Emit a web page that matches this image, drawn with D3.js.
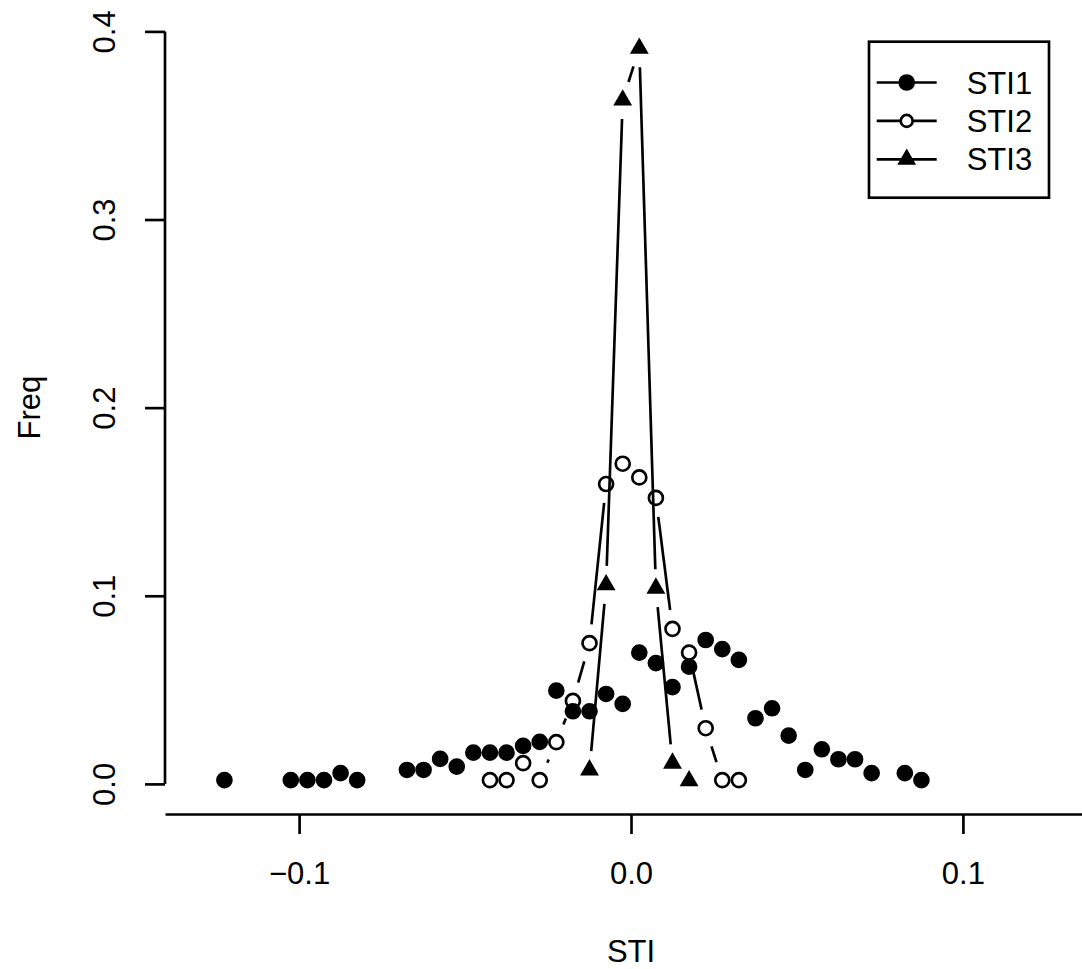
<!DOCTYPE html>
<html>
<head>
<meta charset="utf-8">
<script src="https://cdn.jsdelivr.net/npm/d3@7"></script>
<style>
  body { margin: 0; background: #fff; }
  svg { display: block; }
  text { font-family: "Liberation Sans", Arial, sans-serif; fill: #000; }
</style>
</head>
<body>
<svg id="chart" width="1082" height="969"></svg>
<script>
// STI bin midpoints and frequencies
const sti1X = [-0.1225, -0.1025, -0.0975, -0.0925, -0.0875, -0.0825, -0.0675, -0.0625, -0.0575, -0.0525,
  -0.0475, -0.0425, -0.0375, -0.0325, -0.0275, -0.0225, -0.0175, -0.0125, -0.0075, -0.0025,
  0.0025, 0.0075, 0.0125, 0.0175, 0.0225, 0.0275, 0.0325, 0.0375, 0.0425, 0.0475,
  0.0525, 0.0575, 0.0625, 0.0675, 0.0725, 0.0825, 0.0875];
const sti1Freq = [0.002, 0.002, 0.002, 0.002, 0.0057, 0.002, 0.0074, 0.0074, 0.0133, 0.0092,
  0.0166, 0.0166, 0.0166, 0.0202, 0.0223, 0.0496, 0.0386, 0.0386, 0.0478, 0.0425,
  0.0698, 0.0642, 0.0514, 0.0623, 0.0765, 0.0716, 0.0659, 0.0349, 0.0402, 0.0257,
  0.0074, 0.0184, 0.0131, 0.0131, 0.0057, 0.0057, 0.002];

const sti2X = [-0.0425, -0.0375, -0.0325, -0.0275, -0.0225, -0.0175, -0.0125, -0.0075,
  -0.0025, 0.0025, 0.0075, 0.0125, 0.0175, 0.0225, 0.0275, 0.0325];
const sti2Freq = [0.002, 0.002, 0.011, 0.002, 0.0222, 0.0441, 0.0748, 0.1594,
  0.1702, 0.1629, 0.152, 0.0824, 0.0698, 0.0296, 0.002, 0.002];

const sti3X = [-0.0125, -0.0075, -0.0025, 0.0025, 0.0075, 0.0125, 0.0175];
const sti3Freq = [0.0074, 0.1058, 0.3635, 0.391, 0.104, 0.011, 0.0016];

const xTicks = [-0.1, 0.0, 0.1];
const yTicks = [0.0, 0.1, 0.2, 0.3, 0.4];
const legendLabels = ['STI1', 'STI2', 'STI3'];

const lw = 2.67;      // R lwd=1 at this resolution
const gap = 19;       // type="b" gap around points
const rPt = 7;
const fontSize = 31;

const svg = d3.select('#chart');
svg.append('rect').attr('width', 1082).attr('height', 969).attr('fill', '#fff');

const x = d3.scaleLinear().domain([-0.1404, 0.1404]).range([165, 1097]);
const y = d3.scaleLinear().domain([-0.016, 0.416]).range([814, 1.3]);
const fmt = d3.format('.1f');

// x axis
const xAxis = svg.append('g')
  .attr('transform', `translate(0,${y(-0.016)})`)
  .call(d3.axisBottom(x).tickValues(xTicks).tickFormat(fmt).tickSize(20).tickSizeOuter(0).tickPadding(28));
xAxis.selectAll('path, line').attr('stroke', '#000').attr('stroke-width', lw);
xAxis.selectAll('text').attr('font-size', fontSize).attr('font-family', '"Liberation Sans", Arial, sans-serif').attr('fill', '#000');

// y axis
const yAxis = svg.append('g')
  .attr('transform', `translate(${x(-0.1404)},0)`)
  .call(d3.axisLeft(y).tickValues(yTicks).tickFormat('').tickSize(20).tickSizeOuter(0));
yAxis.select('.domain').remove();
yAxis.append('line')
  .attr('y1', y(0)).attr('y2', y(0.4))
  .attr('stroke', '#000').attr('stroke-width', lw);
yAxis.selectAll('.tick line').attr('stroke', '#000').attr('stroke-width', lw);
yAxis.selectAll('.tick').append('text')
  .attr('transform', 'translate(-50,0) rotate(-90)')
  .attr('text-anchor', 'middle')
  .attr('font-size', fontSize)
  .attr('font-family', '"Liberation Sans", Arial, sans-serif')
  .attr('fill', '#000')
  .text(d => fmt(d));

// axis titles
svg.append('text')
  .attr('x', x(0)).attr('y', 962)
  .attr('text-anchor', 'middle').attr('font-size', fontSize)
  .text('STI');
svg.append('text')
  .attr('transform', `translate(40,${(y(-0.016) + y(0.416)) / 2}) rotate(-90)`)
  .attr('text-anchor', 'middle').attr('font-size', fontSize)
  .text('Freq');

// type="b" line pieces: segments shortened around each point
function gapSegments(xs, ys) {
  const pts = xs.map((v, i) => [x(v), y(ys[i])]);
  const segs = [];
  for (let i = 0; i < pts.length - 1; i++) {
    const [x0, y0] = pts[i], [x1, y1] = pts[i + 1];
    const dx = x1 - x0, dy = y1 - y0, len = Math.hypot(dx, dy);
    if (len <= 2 * gap) continue;
    const ux = dx / len, uy = dy / len;
    segs.push([[x0 + ux * gap, y0 + uy * gap], [x1 - ux * gap, y1 - uy * gap]]);
  }
  return segs;
}

const line = d3.line();
const triangle = r => {
  const h = r * Math.sqrt(3) / 2;
  return `M0,${-r}L${h},${r / 2}L${-h},${r / 2}Z`;
};
const rTri = 1.555 * rPt;

// STI1: points only
svg.append('g').selectAll('circle')
  .data(sti1X.map((v, i) => [v, sti1Freq[i]]))
  .enter().append('circle')
  .attr('cx', d => x(d[0])).attr('cy', d => y(d[1]))
  .attr('r', rPt)
  .attr('fill', '#000').attr('stroke', '#000').attr('stroke-width', lw);

// STI2: open circles with gapped lines
svg.append('g').selectAll('path')
  .data(gapSegments(sti2X, sti2Freq))
  .enter().append('path')
  .attr('d', line)
  .attr('fill', 'none').attr('stroke', '#000').attr('stroke-width', lw);
svg.append('g').selectAll('circle')
  .data(sti2X.map((v, i) => [v, sti2Freq[i]]))
  .enter().append('circle')
  .attr('cx', d => x(d[0])).attr('cy', d => y(d[1]))
  .attr('r', rPt)
  .attr('fill', 'none').attr('stroke', '#000').attr('stroke-width', lw);

// STI3: filled triangles with gapped lines
svg.append('g').selectAll('path')
  .data(gapSegments(sti3X, sti3Freq))
  .enter().append('path')
  .attr('d', line)
  .attr('fill', 'none').attr('stroke', '#000').attr('stroke-width', lw);
svg.append('g').selectAll('path')
  .data(sti3X.map((v, i) => [v, sti3Freq[i]]))
  .enter().append('path')
  .attr('transform', d => `translate(${x(d[0])},${y(d[1])})`)
  .attr('d', triangle(rTri))
  .attr('fill', '#000');

// legend
const legend = svg.append('g').attr('transform', 'translate(869,41.7)');
legend.append('rect')
  .attr('width', 180).attr('height', 156)
  .attr('fill', '#fff').attr('stroke', '#000').attr('stroke-width', lw);
const rows = legend.selectAll('g.row')
  .data(legendLabels)
  .enter().append('g')
  .attr('class', 'row')
  .attr('transform', (d, i) => `translate(0,${40.8 + i * 38.4})`);
rows.append('line')
  .attr('x1', 7.7).attr('x2', 67.7)
  .attr('stroke', '#000').attr('stroke-width', lw);
rows.append('text')
  .attr('x', 97.7).attr('y', 11)
  .attr('font-size', fontSize)
  .text(d => d);
rows.filter((d, i) => i === 0).append('circle')
  .attr('cx', 37.7).attr('r', rPt)
  .attr('fill', '#000').attr('stroke', '#000').attr('stroke-width', lw);
rows.filter((d, i) => i === 1).append('circle')
  .attr('cx', 37.7).attr('r', rPt * 0.85)
  .attr('fill', '#fff').attr('stroke', '#000').attr('stroke-width', lw);
rows.filter((d, i) => i === 2).append('path')
  .attr('transform', 'translate(37.7,0)')
  .attr('d', triangle(rTri))
  .attr('fill', '#000');
</script>
</body>
</html>
